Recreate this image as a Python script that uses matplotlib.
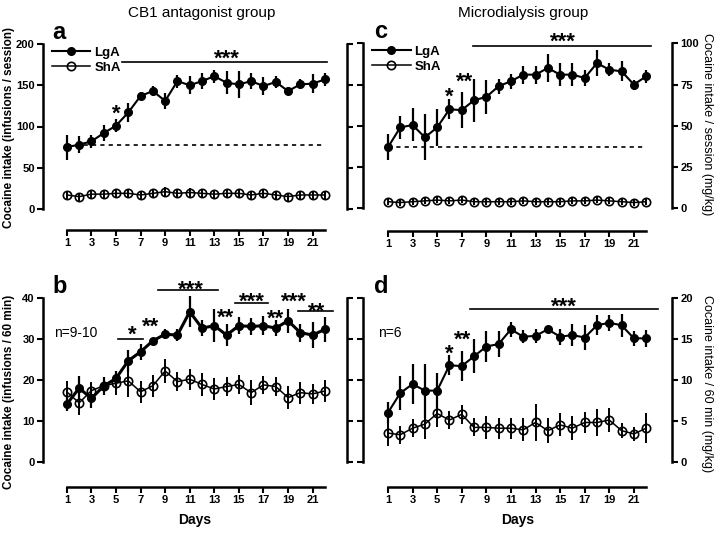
import matplotlib.pyplot as plt
from matplotlib.lines import Line2D
import numpy as np

plt.rcParams['font.family'] = ['Liberation Sans', 'DejaVu Sans']

days = np.arange(1, 23)
day_ticks = [1, 3, 5, 7, 9, 11, 13, 15, 17, 19, 21]

# a: CB1 antagonist group, infusions / session
a_lga = [75, 78, 82, 92, 101, 117, 137, 143, 131, 155, 150, 155, 161, 153, 151, 155, 149, 154, 143, 151, 152, 157]
a_lga_err = [15, 10, 8, 10, 8, 12, 5, 6, 10, 8, 11, 10, 8, 14, 16, 10, 11, 7, 5, 6, 12, 8]
a_sha = [17, 15, 18, 18, 19, 19, 17, 19, 21, 19, 20, 19, 18, 19, 19, 17, 19, 17, 15, 17, 17, 17]
a_sha_err = [5, 5, 5, 5, 5, 5, 5, 5, 6, 5, 5, 5, 5, 5, 5, 5, 5, 5, 5, 5, 5, 5]
a_baseline = 77

# b: CB1 antagonist group, infusions / 60 min
b_lga = [14.1, 18.0, 15.5, 18.5, 20.4, 24.7, 26.9, 29.6, 31.2, 31.0, 36.7, 32.7, 33.3, 31.0, 33.3, 33.1, 33.3, 32.7, 34.5, 31.6, 31.0, 32.4]
b_lga_err = [1.8, 2.9, 2.4, 2.2, 1.8, 2.7, 1.9, 0.6, 1.2, 1.4, 3.8, 2.0, 4.0, 2.6, 2.0, 2.0, 2.3, 2.0, 3.0, 2.2, 3.2, 3.0]
b_sha = [17.1, 14.4, 17.4, 18.6, 19.2, 19.8, 17.1, 18.6, 22.2, 19.6, 20.2, 18.9, 17.8, 18.4, 18.9, 16.9, 18.8, 18.4, 15.7, 16.9, 16.6, 17.3]
b_sha_err = [2.6, 3.0, 2.0, 2.0, 2.8, 3.9, 2.7, 2.7, 3.0, 2.4, 2.6, 2.8, 2.8, 2.3, 2.4, 3.0, 2.3, 2.3, 2.8, 2.7, 2.4, 2.8]

# c: Microdialysis group, mg/kg / session
c_lga = [37, 49, 50.5, 43, 49, 60, 59.5, 65.5, 67.5, 74, 77, 81, 81, 85, 81, 81, 79, 88, 84, 83, 75, 80]
c_lga_err = [8, 7, 10, 14, 11, 6, 11, 13, 10.5, 4.5, 4.5, 5.5, 5.5, 8.5, 7, 7, 5, 8, 4, 6, 3, 4]
c_sha = [4, 3.5, 4, 4.5, 5, 4.5, 5, 4, 4, 4, 4, 4.5, 4, 4, 4, 4.5, 4.5, 5, 4.5, 4, 3.5, 4]
c_sha_err = [2, 2, 2, 2, 2, 2, 2, 2, 2, 2, 2, 2, 2, 2, 2, 2, 2, 2, 2, 2, 2, 2]
c_baseline = 37

# d: Microdialysis group, mg/kg / 60 min
d_lga = [6.0, 8.4, 9.5, 8.7, 8.7, 11.8, 11.7, 12.9, 14.1, 14.4, 16.2, 15.3, 15.4, 16.2, 15.3, 15.5, 15.2, 16.7, 17.0, 16.7, 15.1, 15.1]
d_lga_err = [1.3, 2.1, 2.4, 3.3, 2.2, 1.2, 1.8, 2.1, 1.9, 1.6, 0.9, 0.8, 0.9, 0.4, 1.0, 1.3, 1.5, 1.2, 1.0, 1.4, 0.9, 1.0]
d_sha = [3.5, 3.3, 4.1, 4.6, 5.9, 5.1, 5.8, 4.2, 4.2, 4.1, 4.1, 3.9, 4.8, 3.8, 4.5, 4.1, 4.8, 4.8, 5.1, 3.8, 3.4, 4.1]
d_sha_err = [1.6, 1.1, 1.1, 1.8, 1.6, 1.1, 1.2, 1.1, 1.4, 1.3, 1.3, 1.4, 2.3, 1.5, 1.4, 1.5, 1.3, 1.6, 1.5, 0.9, 0.9, 1.8]

# significance marks: lines (x0, x1, y) and stars (x, baseline y, text)
a_lines = [(5.5, 22.2, 178)]
a_stars = [(14.0, 174.5, '***'), (5.0, 108, '*')]
b_lines = [(5.2, 7.2, 30), (8.4, 13.3, 42), (14.7, 17.4, 38.9), (19.8, 22.7, 36.8)]
b_stars = [(6.3, 29.6, '*'), (7.8, 31.5, '**'), (11.1, 40.6, '***'), (13.9, 33.8, '**'),
           (16.1, 37.7, '***'), (18.0, 33.6, '**'), (19.5, 37.7, '***'), (21.3, 35.2, '**')]
c_lines = [(7.9, 22.4, 98.4)]
c_stars = [(15.2, 97.2, '***'), (6.0, 63.8, '*'), (7.2, 72.9, '**')]
d_lines = [(7.7, 23.0, 18.7)]
d_stars = [(15.3, 18.2, '***'), (6.0, 12.5, '*'), (7.1, 14.2, '**')]

fig = plt.figure(figsize=(7.2, 5.34), dpi=100)


def add_ax(l, t, r, b):
    return fig.add_axes([l / 720, 1 - b / 534, (r - l) / 720, (b - t) / 534])


def style(ax, ylim, yticks, xlim, offset, right_labels):
    ax.set_xlim(xlim)
    ax.set_ylim(ylim)
    ax.spines['top'].set_visible(False)
    for s in ['left', 'right', 'bottom']:
        ax.spines[s].set_linewidth(1.8)
    ax.spines['bottom'].set_position(('outward', offset))
    ax.spines['bottom'].set_bounds(1, 22)
    ax.set_xticks(day_ticks)
    ax.set_yticks(yticks)
    ax.tick_params(direction='out', length=4, width=1.5, labelsize=8, pad=2,
                   left=True, right=True, labelleft=not right_labels, labelright=right_labels)
    for lab in ax.get_xticklabels() + ax.get_yticklabels():
        lab.set_fontweight('bold')


def draw(ax, lga, lga_err, sha, sha_err, lw_lga):
    ax.errorbar(days, sha, yerr=sha_err, fmt='none', ecolor='black', elinewidth=1.4, capsize=0, clip_on=False)
    ax.plot(days, sha, '-o', color='black', lw=1.1, ms=6, mfc='none', mec='black', mew=1.2, clip_on=False)
    ax.errorbar(days, lga, yerr=lga_err, fmt='none', ecolor='black', elinewidth=1.6, capsize=0, clip_on=False)
    ax.plot(days, lga, '-o', color='black', lw=lw_lga, ms=5.5, mfc='black', mec='black', clip_on=False)


def marks(ax, lines, stars):
    for x0, x1, y in lines:
        ax.plot([x0, x1], [y, y], color='black', lw=1.2, clip_on=False)
    for x, y, t in stars:
        ax.text(x, y, t, ha='center', va='baseline', fontsize=16, fontweight='bold')


ax_a = add_ax(43, 44, 347, 209)
ax_b = add_ax(43, 298.3, 347, 461.7)
ax_c = add_ax(363, 43.3, 672, 208.3)
ax_d = add_ax(363, 298.3, 672, 461.7)

style(ax_a, (0, 200), [0, 50, 100, 150, 200], (-0.94, 23.8), 15, False)
style(ax_b, (0, 40), [0, 10, 20, 30, 40], (-0.94, 23.8), 18, False)
style(ax_c, (0, 100), [0, 25, 50, 75, 100], (-1.03, 24.1), 16, True)
style(ax_d, (0, 20), [0, 5, 10, 15, 20], (-1.03, 24.1), 18, True)

draw(ax_a, a_lga, a_lga_err, a_sha, a_sha_err, 1.5)
draw(ax_b, b_lga, b_lga_err, b_sha, b_sha_err, 2.2)
draw(ax_c, c_lga, c_lga_err, c_sha, c_sha_err, 1.5)
draw(ax_d, d_lga, d_lga_err, d_sha, d_sha_err, 1.5)

ax_a.plot([1, 22], [a_baseline, a_baseline], color='black', lw=1.2, ls=(0, (2.5, 2.5)), zorder=1)
ax_c.plot([1, 22], [c_baseline, c_baseline], color='black', lw=1.2, ls=(0, (2.5, 2.5)), zorder=1)

marks(ax_a, a_lines, a_stars)
marks(ax_b, b_lines, b_stars)
marks(ax_c, c_lines, c_stars)
marks(ax_d, d_lines, d_stars)

handles = [Line2D([], [], color='black', lw=1.5, marker='o', ms=5.5, mfc='black'),
           Line2D([], [], color='black', lw=1.1, marker='o', ms=6, mfc='none', mew=1.2)]
for ax in (ax_a, ax_c):
    ax.legend(handles, ['LgA', 'ShA'], loc='upper left', bbox_to_anchor=(0.03, 0.985),
              frameon=False, handlelength=2.9, handletextpad=0.3,
              borderaxespad=0, borderpad=0, labelspacing=0.2, prop={'weight': 'bold', 'size': 9.5})

for ax in (ax_b, ax_d):
    ax.set_xlabel('Days', fontsize=10, fontweight='bold', labelpad=6)

ax_b.text(0.035, 0.79, 'n=9-10', transform=ax_b.transAxes, fontsize=10, va='center')
ax_d.text(0.05, 0.79, 'n=6', transform=ax_d.transAxes, fontsize=10, va='center')

for ax, letter in ((ax_a, 'a'), (ax_b, 'b'), (ax_c, 'c'), (ax_d, 'd')):
    ax.text(0.03 if ax in (ax_a, ax_b) else 0.035, 1.0, letter, transform=ax.transAxes,
            fontsize=17, fontweight='bold', va='bottom', ha='left')

fig.text(202 / 720, 1 - 13 / 534, 'CB1 antagonist group', ha='center', va='center', fontsize=11)
fig.text(523 / 720, 1 - 13 / 534, 'Microdialysis group', ha='center', va='center', fontsize=11)

fig.text(9 / 720, 1 - 128 / 534, 'Cocaine intake (infusions / session)', rotation=90,
         ha='center', va='center', fontsize=8.5, fontweight='bold')
fig.text(9 / 720, 1 - 392 / 534, 'Cocaine intake (infusions / 60 min)', rotation=90,
         ha='center', va='center', fontsize=8.5, fontweight='bold')
fig.text(707 / 720, 1 - 124 / 534, 'Cocaine intake / session (mg/kg)', rotation=270,
         ha='center', va='center', fontsize=9)
fig.text(707 / 720, 1 - 384 / 534, 'Cocaine intake / 60 min (mg/kg)', rotation=270,
         ha='center', va='center', fontsize=9)

fig.savefig('out.png', dpi=100)
